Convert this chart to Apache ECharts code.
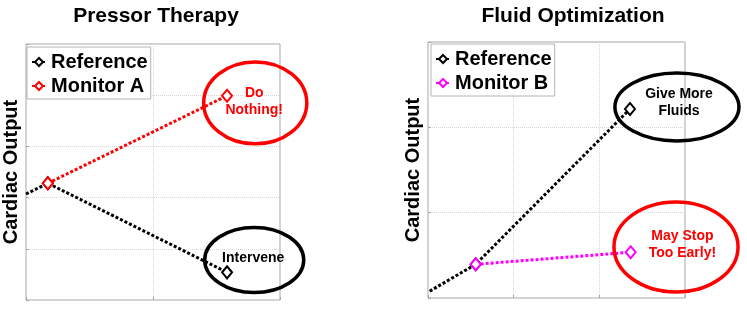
<!DOCTYPE html>
<html>
<head>
<meta charset="utf-8">
<script src="https://cdn.jsdelivr.net/npm/echarts@6/dist/echarts.min.js"></script>
<style>html,body{margin:0;padding:0;background:#fff}#c{width:747px;height:318px}</style>
</head>
<body>
<div id="c"></div>
<script>
// ---- Data ----
const titles = ['Pressor Therapy', 'Fluid Optimization'];
const yAxisName = 'Cardiac Output';

// Left panel: Pressor Therapy
const leftRefX = [0, 0.172, 1.583];
const leftRefY = [2.07, 2.28, 0.54];
const leftMonX = [0.172, 1.583];
const leftMonY = [2.28, 3.99];

// Right panel: Fluid Optimization
const rightRefX = [0.02, 0.557, 2.358];
const rightRefY = [0.08, 0.395, 2.215];
const rightMonX = [0.557, 2.366];
const rightMonY = [0.395, 0.536];

// Annotations: [cx, cy, rx, ry, textX, textY]
const leftAnno = [[1.805, 3.85, 0.406, 0.80, 1.797, 3.877], [1.797, 0.78, 0.39, 0.635, 1.789, 0.82]];
const leftAnnoText = ['Do\nNothing!', 'Intervene'];
const leftAnnoColor = ['#ff0000', '#000000'];
const rightAnno = [[2.906, 2.238, 0.724, 0.398, 2.93, 2.285], [2.895, 0.598, 0.724, 0.527, 2.97, 0.621]];
const rightAnnoText = ['Give More\nFluids', 'May Stop\nToo Early!'];
const rightAnnoColor = ['#000000', '#ff0000'];

const FONT = 'Liberation Sans, Arial, sans-serif';
const pts = (xs, ys) => xs.map((x, i) => [x, ys[i]]);

function lineSeries(name, xs, ys, color, gi, hideFirst) {
  const d = pts(xs, ys).map((p, i) => (hideFirst && i === 0) ? {value: p, symbol: 'none'} : {value: p});
  return {
    type: 'line', name: name, xAxisIndex: gi, yAxisIndex: gi, data: d,
    symbol: 'emptyDiamond', symbolSize: [10, 12], showAllSymbol: true,
    itemStyle: {color: color, borderColor: color, borderWidth: 2},
    lineStyle: {color: color, width: 3, type: [3, 2]},
    animation: false, z: 3
  };
}
function annoSeries(gi, data, texts, colors) {
  return {
    type: 'custom', xAxisIndex: gi, yAxisIndex: gi, data: data, clip: false, silent: true, z: 4,
    renderItem: function (params, api) {
      const c = api.coord([api.value(0), api.value(1)]);
      const s = api.size([api.value(2), api.value(3)]);
      const t = api.coord([api.value(4), api.value(5)]);
      const col = colors[params.dataIndex];
      return {type: 'group', children: [
        {type: 'ellipse', shape: {cx: c[0], cy: c[1], rx: s[0], ry: s[1]},
         style: {fill: 'transparent', stroke: col, lineWidth: 3.5}},
        {type: 'text', x: t[0], y: t[1],
         style: {text: texts[params.dataIndex], fill: col, font: 'bold 14px ' + FONT,
                 align: 'center', verticalAlign: 'middle', lineHeight: 17}}
      ]};
    },
    animation: false
  };
}
function xAx(gi, max) {
  return {type: 'value', gridIndex: gi, min: 0, max: max, interval: 1,
    axisLine: {show: false}, axisLabel: {show: false},
    axisTick: {show: true, inside: true, length: 3, lineStyle: {color: '#a6a6a6'}},
    splitLine: {show: true, lineStyle: {color: '#d6d6d6', type: 'dotted', width: 1}}};
}
function yAx(gi, max) {
  return {type: 'value', gridIndex: gi, min: 0, max: max, interval: 1,
    name: yAxisName, nameLocation: 'middle', nameRotate: 90, nameGap: 5,
    nameTextStyle: {fontFamily: FONT, fontWeight: 'bold', fontSize: 20, color: '#000'},
    axisLine: {show: false}, axisLabel: {show: false},
    axisTick: {show: true, inside: true, length: 3, lineStyle: {color: '#a6a6a6'}},
    splitLine: {show: true, lineStyle: {color: '#d6d6d6', type: 'dotted', width: 1}}};
}
function legend(left, top, names) {
  return {show: true, orient: 'vertical', left: left, top: top, data: names,
    backgroundColor: '#fff', borderColor: '#b4b4b4', borderWidth: 1, borderRadius: 0,
    padding: [5, 3, 3, 4], itemGap: 4, itemWidth: 14, itemHeight: 10, itemTextGap: 4,
    textStyle: {fontFamily: FONT, fontWeight: 'bold', fontSize: 20, color: '#000'},
    selectedMode: false};
}

const chart = echarts.init(document.getElementById('c'), null, {renderer: 'canvas'});
chart.setOption({
  animation: false,
  backgroundColor: '#fff',
  title: [
    {text: titles[0], left: 151, top: 1, textAlign: 'center',
     textStyle: {fontFamily: FONT, fontWeight: 'bold', fontSize: 21, color: '#000'}},
    {text: titles[1], left: 568, top: 1, textAlign: 'center',
     textStyle: {fontFamily: FONT, fontWeight: 'bold', fontSize: 21, color: '#000'}}
  ],
  grid: [
    {left: 24, top: 44, width: 256, height: 256, show: true, borderColor: '#a6a6a6', borderWidth: 1, backgroundColor: 'transparent'},
    {left: 428, top: 42, width: 257, height: 256, show: true, borderColor: '#a6a6a6', borderWidth: 1, backgroundColor: 'transparent'}
  ],
  xAxis: [xAx(0, 2), xAx(1, 3)],
  yAxis: [yAx(0, 5), yAx(1, 3)],
  legend: [legend(27, 47, ['Reference', 'Monitor A']), legend(431, 44, ['Reference', 'Monitor B'])],
  series: [
    lineSeries('Reference', leftRefX, leftRefY, '#000000', 0, true),
    lineSeries('Monitor A', leftMonX, leftMonY, '#ff0000', 0, false),
    lineSeries('Reference', rightRefX, rightRefY, '#000000', 1, true),
    lineSeries('Monitor B', rightMonX, rightMonY, '#ff00ff', 1, false),
    annoSeries(0, leftAnno, leftAnnoText, leftAnnoColor),
    annoSeries(1, rightAnno, rightAnnoText, rightAnnoColor)
  ]
});
</script>
</body>
</html>
